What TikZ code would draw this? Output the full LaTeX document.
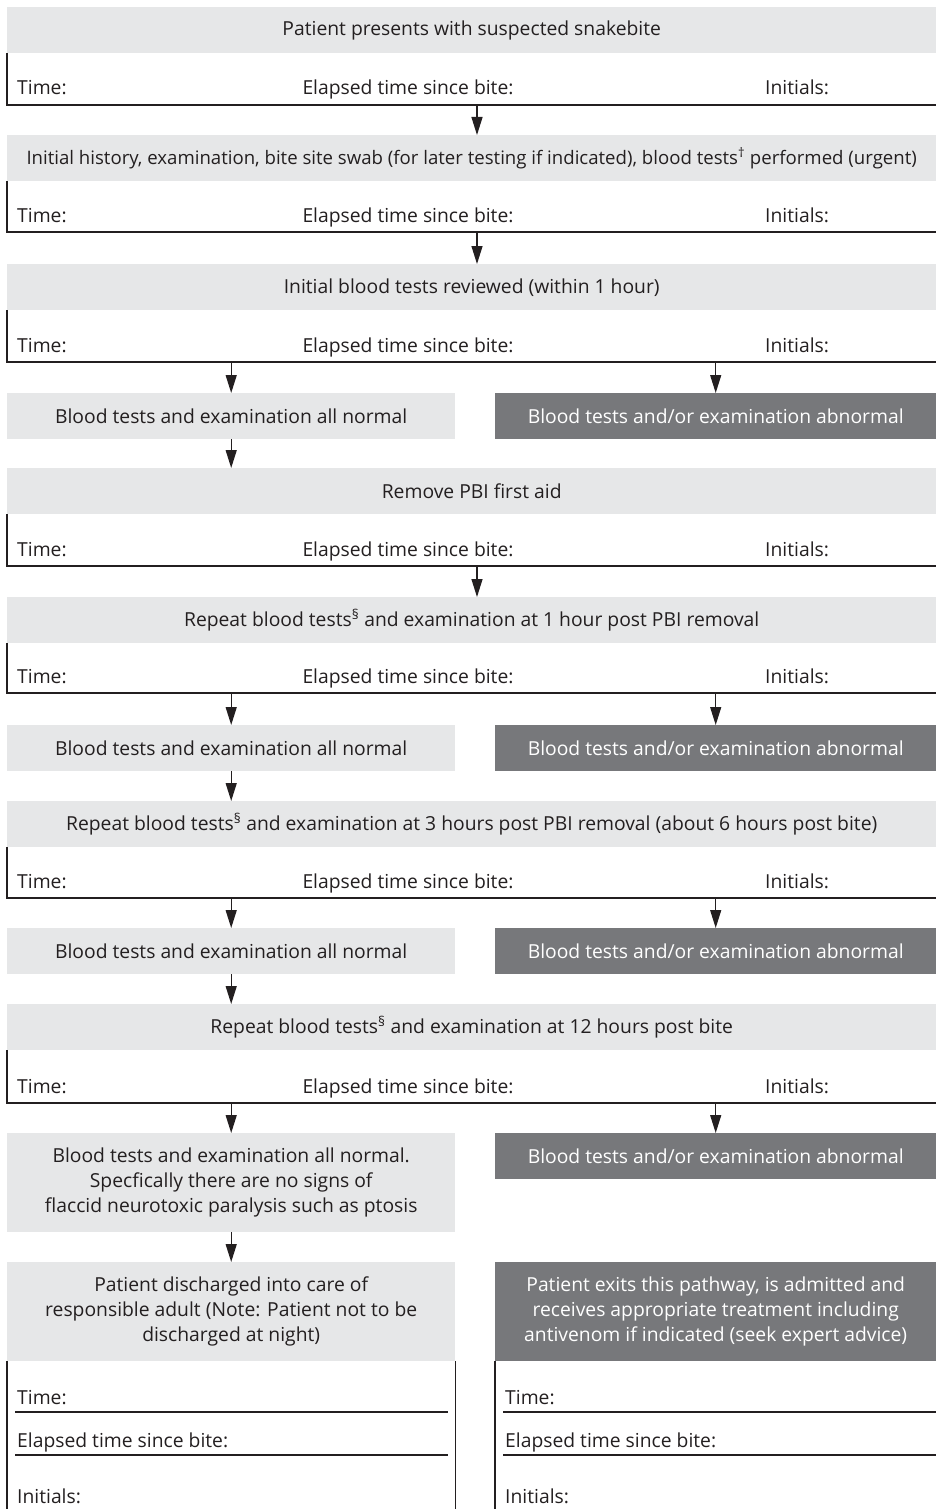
\documentclass[tikz,border=0pt]{standalone}
\usepackage{fontspec}
\setmainfont{Open Sans}
\usepackage{xcolor}
\usepackage{tikz}
\usetikzlibrary{arrows.meta,positioning,calc}
\definecolor{lightband}{HTML}{E6E7E8}
\definecolor{darkband}{HTML}{77787B}
\definecolor{ink}{HTML}{231F20}

\begin{document}
\begin{tikzpicture}[x=1pt, y=-1pt,
  every node/.style={font=\fontsize{19.3}{25}\selectfont, text=ink, inner sep=0pt},
  band/.style={fill=lightband, anchor=north west, minimum width=929, minimum height=46},
  half/.style={band, minimum width=448, align=center},
  halfdark/.style={half, fill=darkband, text=white, minimum width=441},
  formtxt/.style={anchor=base west},
  rule/.style={draw=ink, line width=1.3pt},
  arr/.style={draw=ink, line width=1.3pt, -{Triangle[length=18pt,width=11pt]}}]
\useasboundingbox (0,0) rectangle (936,1509);

% steps of the pathway
\node[band] (b1) at (7,7) {Patient presents with suspected snakebite};
\node[band, font=\fontsize{18.6}{25}\selectfont] (b2) at (7,135) {Initial history, examination, bite site swab (for later testing if indicated), blood tests\textsuperscript{†} performed (urgent)};
\node[band] (b3) at (7,264) {Initial blood tests reviewed (within 1 hour)};
\node[half] (n1) at (7,393) {Blood tests and examination all normal};
\node[halfdark] (x1) at (495,393) {Blood tests and/or examination abnormal};
\node[band] (b4) at (7,468) {Remove PBI first aid};
\node[band] (b5) at (7,597) {Repeat blood tests\textsuperscript{§} and examination at 1 hour post PBI removal};
\node[half] (n2) at (7,725) {Blood tests and examination all normal};
\node[halfdark] (x2) at (495,725) {Blood tests and/or examination abnormal};
\node[band] (b6) at (7,801) {Repeat blood tests\textsuperscript{§} and examination at 3 hours post PBI removal (about 6 hours post bite)};
\node[half] (n3) at (7,928) {Blood tests and examination all normal};
\node[halfdark] (x3) at (495,928) {Blood tests and/or examination abnormal};
\node[band] (b7) at (7,1004) {Repeat blood tests\textsuperscript{§} and examination at 12 hours post bite};
\node[half, minimum height=99] (n4) at (7,1133) {Blood tests and examination all normal.\\Specfically there are no signs of\\flaccid neurotoxic paralysis such as ptosis};
\node[halfdark] (x4) at (495,1133) {Blood tests and/or examination abnormal};
\node[half, minimum height=99] (dis) at (7,1262) {Patient discharged into care of\\responsible adult (Note: Patient not to be\\discharged at night)};
\node[halfdark, minimum height=99] (ex) at (495,1262) {Patient exits this pathway, is admitted and\\receives appropriate treatment including\\antivenom if indicated (seek expert advice)};

% time / initials rows under each step
\foreach \b/\y in {b1/105, b2/232, b3/362, b4/566, b5/693, b6/898, b7/1103} {
  \draw[rule] (\b.south west) |- (936,\y);
  \coordinate (l\b) at (477,\y);
  \node[formtxt] (t\b) at (17,\y-10) {Time:};
  \node[anchor=base] (e\b) at (408,\y-10) {Elapsed time since bite:};
  \node[formtxt] (i\b) at (765,\y-10) {Initials:};
}

% arrows
\draw[arr] (lb1) -- (lb1 |- b2.north);
\draw[arr] (lb2) -- (lb2 |- b3.north);
\draw[arr] (lb4) -- (lb4 |- b5.north);
\draw[arr] (n1.north |- lb3) -- (n1.north);
\draw[arr] (x1.north |- lb3) -- (x1.north);
\draw[arr] (n1) -- (n1 |- b4.north);
\draw[arr] (n2.north |- lb5) -- (n2.north);
\draw[arr] (x2.north |- lb5) -- (x2.north);
\draw[arr] (n2) -- (n2 |- b6.north);
\draw[arr] (n3.north |- lb6) -- (n3.north);
\draw[arr] (x3.north |- lb6) -- (x3.north);
\draw[arr] (n3) -- (n3 |- b7.north);
\draw[arr] (n4.north |- lb7) -- (n4.north);
\draw[arr] (x4.north |- lb7) -- (x4.north);
\draw[arr] (n4) -- (dis.north);

% final forms
\draw[rule] (dis.south west) -- ++(0,148);
\draw[rule] (dis.south east) -- ++(0,148);
\draw[rule] (ex.south west) -- ++(0,148);
\foreach \c/\x/\r in {dis/15/448, ex/503/936} {
  \node[formtxt] (t\c) at (\x+2,1404) {Time:};
  \node[formtxt] (e\c) at (\x+2,1447) {Elapsed time since bite:};
  \node[formtxt] (i\c) at (\x+2,1503) {Initials:};
  \draw[rule] (\x,1412) -- (\r,1412);
  \draw[rule] (\x,1455) -- (\r,1455);
}
\end{tikzpicture}
\end{document}
